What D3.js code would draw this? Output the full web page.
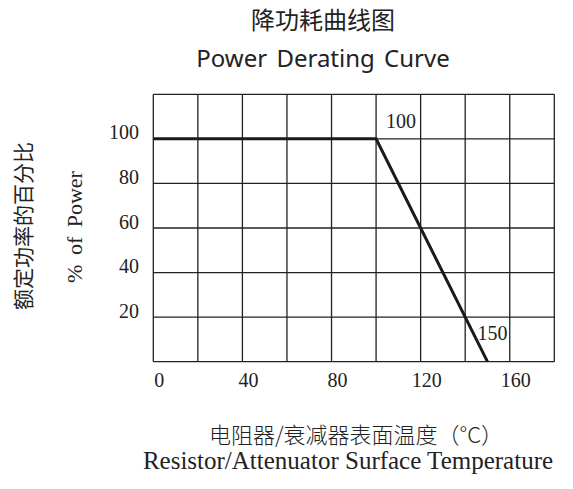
<!DOCTYPE html>
<html>
<head>
<meta charset="utf-8">
<script src="https://cdn.jsdelivr.net/npm/d3@7"></script>
<style>
  body { margin: 0; background: #fff; }
  svg text { fill: #222; }
</style>
</head>
<body>
<svg id="chart" width="573" height="489"></svg>
<script>
// derating curve: temperature (°C) vs % of rated power
var tempPoints = [0, 100, 150];
var powerPoints = [100, 100, 0];
var xTicks = [0, 40, 80, 120, 160];
var yTicks = [20, 40, 60, 80, 100];
var xGrid = [0, 20, 40, 60, 80, 100, 120, 140, 160, 180];
var yGrid = [0, 20, 40, 60, 80, 100, 120];
var notes = [{t: 100, p: 100, label: "100"}, {t: 150, p: 0, label: "150"}];

var svg = d3.select("#chart");
var serif = "'Liberation Serif', 'DejaVu Serif', serif";
var cjk = "'Noto Sans CJK SC', sans-serif";

var x = d3.scaleLinear().domain([0, 180]).range([153.3, 554.3]),
    y = d3.scaleLinear().domain([0, 120]).range([361.7, 94.3]);

// grid
svg.append("g").selectAll("line").data(xGrid).enter().append("line")
    .attr("x1", function(d) { return x(d); }).attr("x2", function(d) { return x(d); })
    .attr("y1", y(0)).attr("y2", y(120))
    .attr("stroke", "#222").attr("stroke-width", 1.3);
svg.append("g").selectAll("line").data(yGrid).enter().append("line")
    .attr("y1", function(d) { return y(d); }).attr("y2", function(d) { return y(d); })
    .attr("x1", x(0)).attr("x2", x(180))
    .attr("stroke", "#222").attr("stroke-width", 1.3);

// curve
var line = d3.line()
    .x(function(d, i) { return x(tempPoints[i]); })
    .y(function(d, i) { return y(d); });
svg.append("path").datum(powerPoints)
    .attr("d", line)
    .attr("fill", "none").attr("stroke", "#1a1a1a").attr("stroke-width", 3);

// tick labels
svg.append("g").selectAll("text").data(xTicks).enter().append("text")
    .attr("x", function(d) { return x(d) + 6; }).attr("y", 387)
    .attr("text-anchor", "middle")
    .style("font-family", serif).style("font-size", "20px")
    .text(function(d) { return d; });
svg.append("g").selectAll("text").data(yTicks).enter().append("text")
    .attr("x", 139).attr("y", function(d) { return y(d) + 0.5; })
    .attr("text-anchor", "end")
    .style("font-family", serif).style("font-size", "20px")
    .text(function(d) { return d; });

// point labels
svg.append("g").selectAll("text").data(notes).enter().append("text")
    .attr("x", function(d) { return x(d.t) + (d.t === 150 ? -10 : 10); })
    .attr("y", function(d) { return y(d.p) + (d.p === 0 ? -22 : -11); })
    .style("font-family", serif).style("font-size", "20px")
    .text(function(d) { return d.label; });

// titles
svg.append("text").attr("x", 323).attr("y", 29).attr("text-anchor", "middle")
    .style("font-family", cjk).style("font-size", "24px")
    .text("降功耗曲线图");
svg.append("text").attr("x", 323).attr("y", 67).attr("text-anchor", "middle")
    .style("font-family", "'Noto Sans', sans-serif").style("font-size", "24px")
    .style("word-spacing", "3px")
    .text("Power Derating Curve");

// y axis titles
svg.append("text").attr("transform", "translate(31,226) rotate(-90)")
    .attr("text-anchor", "middle")
    .style("font-family", cjk).style("font-size", "21px")
    .text("额定功率的百分比");
svg.append("text").attr("transform", "translate(82,227) rotate(-90)")
    .attr("text-anchor", "middle")
    .style("font-family", serif).style("font-size", "22px")
    .style("word-spacing", "4px")
    .text("% of Power");

// x axis titles
svg.append("text").attr("x", 356).attr("y", 443).attr("text-anchor", "middle")
    .style("font-family", cjk).style("font-size", "22px").style("font-weight", 300)
    .text("电阻器/衰减器表面温度（°C）");
svg.append("text").attr("x", 348).attr("y", 469).attr("text-anchor", "middle")
    .style("font-family", serif).style("font-size", "25px")
    .text("Resistor/Attenuator Surface Temperature");
</script>
</body>
</html>
